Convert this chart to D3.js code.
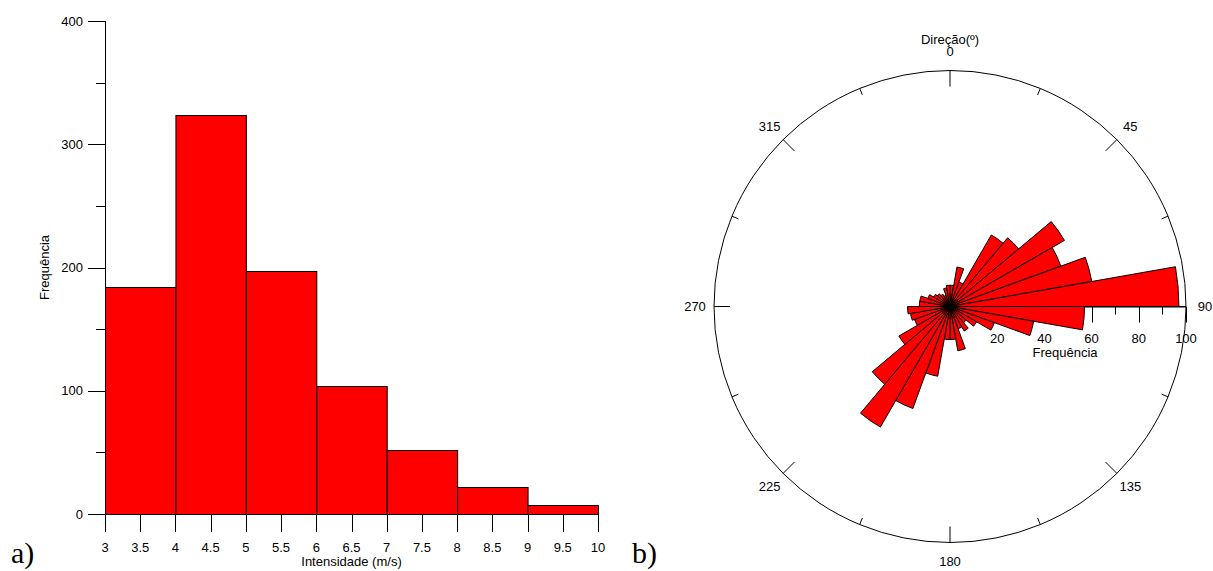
<!DOCTYPE html>
<html>
<head>
<meta charset="utf-8">
<script src="https://cdn.jsdelivr.net/npm/d3@7"></script>
<style>
  body { margin: 0; background: #fff; }
  text { font-family: "Liberation Sans", Arial, sans-serif; font-size: 13px; fill: #000; }
  .panel { font-family: "Liberation Serif", "Times New Roman", serif; font-size: 30px; }
</style>
</head>
<body>
<div id="chart"></div>
<script>
// histogram: wind speed
var speedEdges = [3, 4, 5, 6, 7, 8, 9, 10];
var speedCounts = [184, 324, 197, 104, 52, 22, 7];
var speedTicks = [3, 3.5, 4, 4.5, 5, 5.5, 6, 6.5, 7, 7.5, 8, 8.5, 9, 9.5, 10];
var countTicks = [0, 100, 200, 300, 400];
var countMinor = [50, 150, 250, 350];

// rose: wind direction, 10 degree bins starting at 0
var dirCounts = [9, 17, 11, 35, 38, 56, 50, 61, 97,
                 57, 36, 20, 13, 9, 12, 10, 19, 14,
                 14, 30, 46, 59, 43, 25, 16, 17, 18,
                 13, 13, 10, 8, 7, 6, 5, 8, 9];
var dirLabels = [0, 45, 90, 135, 180, 225, 270, 315];
var freqTicks = [10, 20, 30, 40, 50, 60, 70, 80, 90, 100];
var freqLabels = [20, 40, 60, 80, 100];

var width = 1213, height = 571;

var svg = d3.select("#chart")
    .append("svg")
    .attr("width", width)
    .attr("height", height);

// ---------- a) histogram ----------
var x = d3.scaleLinear().domain([3, 10]).range([105, 598]);
var y = d3.scaleLinear().domain([0, 400]).range([514, 21]);

var hist = svg.append("g");

hist.selectAll(".bar")
    .data(speedCounts)
    .enter().append("rect")
    .attr("class", "bar")
    .attr("x", function(d, i) { return x(speedEdges[i]) + 0.5 })
    .attr("y", function(d) { return Math.round(y(d)) + 0.5 })
    .attr("width", function(d, i) { return x(speedEdges[i + 1]) - x(speedEdges[i]) })
    .attr("height", function(d) { return y(0) - Math.round(y(d)) })
    .attr("fill", "#ff0000")
    .attr("stroke", "#000")
    .attr("stroke-width", 1)

// y axis
hist.append("line")
    .attr("x1", x(3) + 0.5).attr("x2", x(3) + 0.5)
    .attr("y1", y(400)).attr("y2", y(0))
    .attr("stroke", "#000")

hist.selectAll(".ymaj")
    .data(countTicks)
    .enter().append("line")
    .attr("x1", x(3) - 17).attr("x2", x(3) + 0.5)
    .attr("y1", function(d) { return Math.round(y(d)) + 0.5 })
    .attr("y2", function(d) { return Math.round(y(d)) + 0.5 })
    .attr("stroke", "#000")

hist.selectAll(".ymin")
    .data(countMinor)
    .enter().append("line")
    .attr("x1", x(3) - 9).attr("x2", x(3) + 0.5)
    .attr("y1", function(d) { return Math.round(y(d)) + 0.5 })
    .attr("y2", function(d) { return Math.round(y(d)) + 0.5 })
    .attr("stroke", "#000")

hist.selectAll(".ylab")
    .data(countTicks)
    .enter().append("text")
    .attr("x", x(3) - 22)
    .attr("y", function(d) { return y(d) })
    .attr("dy", "0.35em")
    .attr("text-anchor", "end")
    .text(function(d) { return d })

hist.append("text")
    .attr("transform", "translate(49," + y(200) + ") rotate(-90)")
    .attr("text-anchor", "middle")
    .text("Frequência")

// x axis ticks
hist.selectAll(".xtick")
    .data(speedTicks)
    .enter().append("line")
    .attr("x1", function(d) { return Math.round(x(d)) + 0.5 })
    .attr("x2", function(d) { return Math.round(x(d)) + 0.5 })
    .attr("y1", y(0)).attr("y2", y(0) + 18)
    .attr("stroke", "#000")

hist.selectAll(".xlab")
    .data(speedTicks)
    .enter().append("text")
    .attr("x", function(d) { return x(d) })
    .attr("y", y(0) + 38)
    .attr("text-anchor", "middle")
    .text(function(d) { return d })

hist.append("text")
    .attr("x", (x(3) + x(10)) / 2)
    .attr("y", 566)
    .attr("text-anchor", "middle")
    .text("Intensidade (m/s)")

svg.append("text").attr("class", "panel").attr("x", 11).attr("y", 563).text("a)")
svg.append("text").attr("class", "panel").attr("x", 632).attr("y", 563).text("b)")

// ---------- b) rose diagram ----------
var cx = 950, cy = 306.5, R = 236;
var r = d3.scaleLinear().domain([0, 100]).range([0, R]);
var rose = svg.append("g").attr("transform", "translate(" + cx + "," + cy + ")");

rose.append("circle")
    .attr("r", R)
    .attr("fill", "none")
    .attr("stroke", "#000")

// angular ticks, major every 45, minor in between
var angTicks = d3.range(0, 360, 22.5);
rose.selectAll(".atick")
    .data(angTicks)
    .enter().append("line")
    .attr("x1", function(d) { return Math.sin(d * Math.PI / 180) * R })
    .attr("y1", function(d) { return -Math.cos(d * Math.PI / 180) * R })
    .attr("x2", function(d) { var len = d % 45 == 0 ? 16 : 7; return Math.sin(d * Math.PI / 180) * (R - len) })
    .attr("y2", function(d) { var len = d % 45 == 0 ? 16 : 7; return -Math.cos(d * Math.PI / 180) * (R - len) })
    .attr("stroke", "#000")

rose.selectAll(".alab")
    .data(dirLabels)
    .enter().append("text")
    .attr("x", function(d) { return Math.sin(d * Math.PI / 180) * 255 })
    .attr("y", function(d) { return -Math.cos(d * Math.PI / 180) * 255 })
    .attr("dy", "0.35em")
    .attr("text-anchor", "middle")
    .text(function(d) { return d })

rose.append("text")
    .attr("x", 0).attr("y", -263)
    .attr("text-anchor", "middle")
    .text("Direção(º)")

// radial axis
rose.append("line")
    .attr("x1", 0).attr("x2", R)
    .attr("y1", 0.5).attr("y2", 0.5)
    .attr("stroke", "#000")

rose.selectAll(".rtick")
    .data(freqTicks)
    .enter().append("line")
    .attr("x1", function(d) { return Math.round(r(d)) + 0.5 })
    .attr("x2", function(d) { return Math.round(r(d)) + 0.5 })
    .attr("y1", 0.5)
    .attr("y2", function(d) { return d % 20 == 0 ? 16 : 8 })
    .attr("stroke", "#000")

rose.selectAll(".rlab")
    .data(freqLabels)
    .enter().append("text")
    .attr("x", function(d) { return r(d) })
    .attr("y", 36)
    .attr("text-anchor", "middle")
    .text(function(d) { return d })

rose.append("text")
    .attr("x", 115).attr("y", 50)
    .attr("text-anchor", "middle")
    .text("Frequência")

// petals
var arc = d3.arc()
    .innerRadius(0)
    .outerRadius(function(d) { return r(d.value) })
    .startAngle(function(d) { return d.angle * Math.PI / 180 })
    .endAngle(function(d) { return (d.angle + 10) * Math.PI / 180 });

rose.selectAll(".petal")
    .data(dirCounts.map(function(v, i) { return { angle: i * 10, value: v } }))
    .enter().append("path")
    .attr("class", "petal")
    .attr("d", arc)
    .attr("fill", "#ff0000")
    .attr("stroke", "#000")
    .attr("stroke-width", 1)
</script>
</body>
</html>
